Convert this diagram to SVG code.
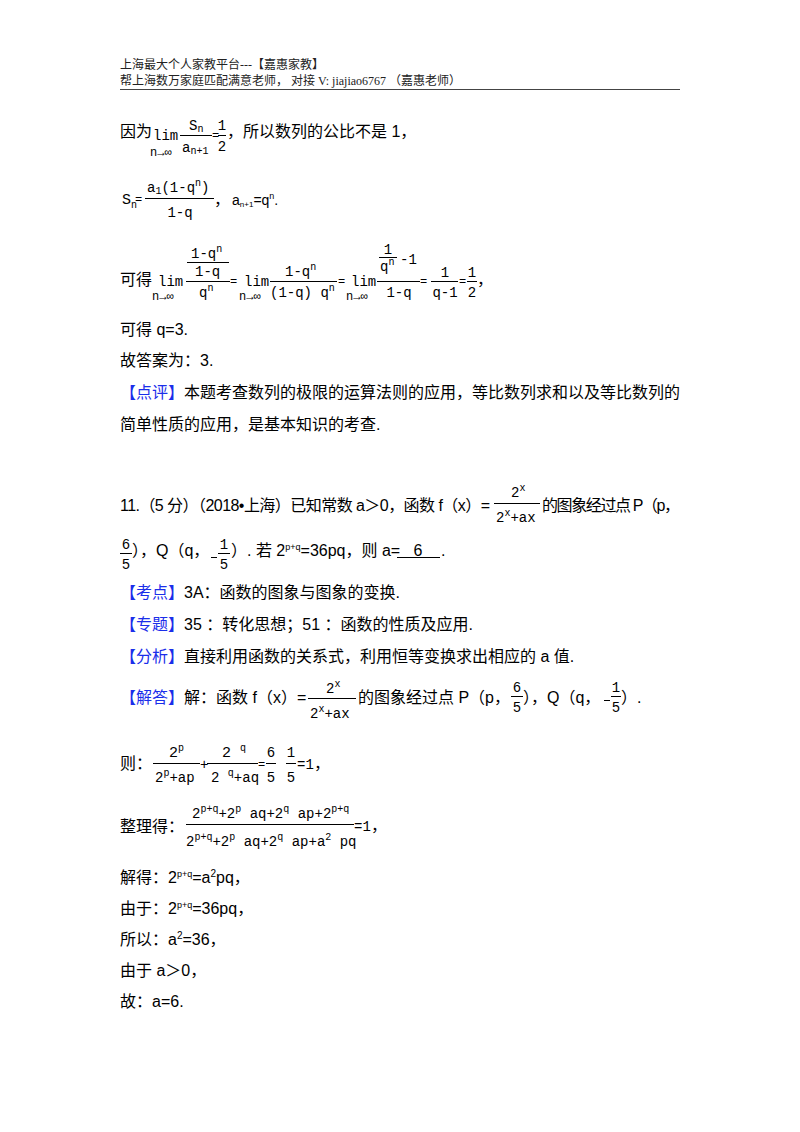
<svg xmlns="http://www.w3.org/2000/svg" width="800" height="1132" viewBox="0 0 800 1132">
<style>
.t{font-family:"Liberation Sans","Noto Sans CJK SC",sans-serif;font-size:16px;fill:#000}
.b{fill:#1a2eea}
.h{font-family:"Liberation Serif","Noto Sans CJK SC",serif;font-size:12px;fill:#222}
.m{font-family:"Liberation Mono","DejaVu Sans Mono",monospace;font-size:14px;fill:#000}
.s{font-size:10px}
.r{font-size:12px}
.l{font-size:14px}
.a{font-size:12px}
.fb{stroke:#000;stroke-width:1;fill:none}
</style>
<rect width="800" height="1132" fill="#fff"/>
<g id="header">
<text class="h" x="120" y="69">上海最大个人家教平台---【嘉惠家教】</text>
<text class="h" x="120" y="85">帮上海数万家庭匹配满意老师， 对接 V: jiajiao6767 （嘉惠老师）</text>
<line x1="120" y1="89.5" x2="680" y2="89.5" stroke="#444" stroke-width="1.2"/>
</g>
<g id="line-limit">
<text class="t" x="120" y="137">因为</text>
<text class="m l" x="153" y="140">lim</text>
<text class="m a" x="150" y="156">n→∞</text>
<text class="m" x="189" y="130">S<tspan class="s" dy="2">n</tspan></text>
<line class="fb" x1="180" y1="135.5" x2="212" y2="135.5"/>
<text class="m" x="182" y="152">a<tspan class="s" dy="2">n+1</tspan></text>
<text class="m r" x="212" y="139">=</text>
<text class="m" x="222" y="130" text-anchor="middle">1</text>
<line class="fb" x1="218" y1="135.5" x2="226" y2="135.5"/>
<text class="m" x="222" y="151" text-anchor="middle">2</text>
<text class="t" x="227" y="137">，所以数列的公比不是 1，</text>
</g>
<g id="line-sn">
<text class="m" x="122" y="204" style="font-size:15px">S<tspan class="s" dy="4">n</tspan></text>
<text class="m r" x="135" y="203">=</text>
<text class="m" x="147" y="192">a<tspan class="s" dy="2">1</tspan><tspan dy="-2">(1-q</tspan><tspan class="s" dy="-6">n</tspan><tspan dy="6">)</tspan></text>
<line class="fb" x1="145" y1="198.5" x2="214" y2="198.5"/>
<text class="m" x="180" y="217" text-anchor="middle">1-q</text>
<text class="t" x="214" y="205">，</text>
<text class="t" x="232" y="205" style="font-size:14px">a<tspan style="font-size:8px" dy="2">n+1</tspan><tspan dy="-2">=q</tspan><tspan style="font-size:9px" dy="-6">n</tspan><tspan dy="6">.</tspan></text>
</g>
<g id="line-ratio">
<text class="t" x="120" y="285">可得</text>
<text class="m l" x="158" y="286">lim</text>
<text class="m a" x="152" y="300">n→∞</text>
<text class="m" x="191" y="258">1-q<tspan class="s" dy="-6">n</tspan></text>
<line class="fb" x1="187" y1="262.5" x2="229" y2="262.5"/>
<text class="m" x="195" y="276">1-q</text>
<line class="fb" x1="186" y1="281.5" x2="230" y2="281.5"/>
<text class="m" x="199" y="297">q<tspan class="s" dy="-6">n</tspan></text>
<text class="m r" x="230" y="285">=</text>
<text class="m l" x="244" y="286">lim</text>
<text class="m a" x="239" y="300">n→∞</text>
<text class="m" x="285" y="276">1-q<tspan class="s" dy="-6">n</tspan></text>
<line class="fb" x1="270" y1="281.5" x2="337" y2="281.5"/>
<text class="m" x="270" y="297">(1-q) q<tspan class="s" dy="-6">n</tspan></text>
<text class="m r" x="338" y="285">=</text>
<text class="m l" x="351" y="286">lim</text>
<text class="m a" x="346" y="300">n→∞</text>
<text class="m" x="388" y="254" text-anchor="middle">1</text>
<line class="fb" x1="379" y1="257.5" x2="397" y2="257.5"/>
<text class="m" x="380" y="271">q<tspan class="s" dy="-6">n</tspan></text>
<text class="m" x="400" y="264">-1</text>
<line class="fb" x1="377" y1="281.5" x2="420" y2="281.5"/>
<text class="m" x="399" y="297" text-anchor="middle">1-q</text>
<text class="m r" x="420" y="285">=</text>
<text class="m" x="445" y="277" text-anchor="middle">1</text>
<line class="fb" x1="431" y1="281.5" x2="458" y2="281.5"/>
<text class="m" x="445" y="297" text-anchor="middle">q-1</text>
<text class="m r" x="459" y="285">=</text>
<text class="m" x="472" y="277" text-anchor="middle">1</text>
<line class="fb" x1="467" y1="281.5" x2="477" y2="281.5"/>
<text class="m" x="472" y="297" text-anchor="middle">2</text>
<text class="t" x="477" y="285">，</text>
</g>
<g id="line-q">
<text class="t" x="120" y="335">可得 q=3.</text>
<text class="t" x="120" y="366">故答案为：3.</text>
</g>
<g id="comment">
<text class="t" x="120" y="398"><tspan class="b">【点评】</tspan>本题考查数列的极限的运算法则的应用，等比数列求和以及等比数列的</text>
<text class="t" x="120" y="430">简单性质的应用，是基本知识的考查.</text>
</g>
<g id="problem11">
<text class="t" x="120" y="511" textLength="370" lengthAdjust="spacing">11.（5 分）（2018•上海）已知常数 a＞0，函数 f（x）=</text>
<text class="m" x="511" y="497">2<tspan class="s" dy="-6">x</tspan></text>
<line class="fb" x1="494" y1="503.5" x2="540" y2="503.5"/>
<text class="m" x="496" y="522">2<tspan class="s" dy="-6">x</tspan><tspan dy="6">+ax</tspan></text>
<text class="t" x="542" y="511" textLength="138" lengthAdjust="spacing">的图象经过点 P（p，</text>
<text class="m" x="126" y="549" text-anchor="middle">6</text>
<line class="fb" x1="120" y1="553.5" x2="132" y2="553.5"/>
<text class="m" x="126" y="569" text-anchor="middle">5</text>
<text class="t" x="132" y="556">），Q（q，</text>
<line class="fb" x1="211" y1="557.5" x2="217" y2="557.5"/>
<text class="m" x="224" y="549" text-anchor="middle">1</text>
<line class="fb" x1="218" y1="553.5" x2="230" y2="553.5"/>
<text class="m" x="224" y="569" text-anchor="middle">5</text>
<text class="t" x="231" y="556">）. 若 2<tspan style="font-size:9px" dy="-6">p+q</tspan><tspan dy="6">=36pq，则 a=</tspan></text>
<line class="fb" x1="397" y1="557.5" x2="440" y2="557.5"/>
<text class="t" x="418" y="556" text-anchor="middle">6</text>
<text class="t" x="441" y="556">.</text>
</g>
<g id="kaodian">
<text class="t" x="120" y="598"><tspan class="b">【考点】</tspan>3A：函数的图象与图象的变换.</text>
</g>
<g id="zhuanti">
<text class="t" x="120" y="630"><tspan class="b">【专题】</tspan>35 ：转化思想；51 ：函数的性质及应用.</text>
</g>
<g id="fenxi">
<text class="t" x="120" y="662"><tspan class="b">【分析】</tspan>直接利用函数的关系式，利用恒等变换求出相应的 a 值.</text>
</g>
<g id="jieda">
<text class="t" x="120" y="703"><tspan class="b">【解答】</tspan>解：函数 f（x）=</text>
<text class="m" x="326" y="693">2<tspan class="s" dy="-6">x</tspan></text>
<line class="fb" x1="308" y1="698.5" x2="356" y2="698.5"/>
<text class="m" x="310" y="718">2<tspan class="s" dy="-6">x</tspan><tspan dy="6">+ax</tspan></text>
<text class="t" x="358" y="703">的图象经过点 P（p，</text>
<text class="m" x="517" y="692" text-anchor="middle">6</text>
<line class="fb" x1="511" y1="696.5" x2="523" y2="696.5"/>
<text class="m" x="517" y="712" text-anchor="middle">5</text>
<text class="t" x="523" y="703">），Q（q，</text>
<line class="fb" x1="604" y1="700.5" x2="610" y2="700.5"/>
<text class="m" x="616" y="692" text-anchor="middle">1</text>
<line class="fb" x1="611" y1="696.5" x2="621" y2="696.5"/>
<text class="m" x="616" y="712" text-anchor="middle">5</text>
<text class="t" x="621" y="703">）.</text>
</g>
<g id="ze">
<text class="t" x="120" y="769">则：</text>
<text class="m" x="169" y="757" style="font-size:15px">2<tspan class="s" dy="-6">p</tspan></text>
<line class="fb" x1="153" y1="763.5" x2="200" y2="763.5"/>
<text class="m" x="155" y="782">2<tspan class="s" dy="-6">p</tspan><tspan dy="6">+ap</tspan></text>
<text class="m" x="200" y="769">+</text>
<text class="m" x="222" y="757" style="font-size:15px">2 <tspan class="s" dy="-6">q</tspan></text>
<line class="fb" x1="207" y1="763.5" x2="258" y2="763.5"/>
<text class="m" x="211" y="782">2 <tspan class="s" dy="-6">q</tspan><tspan dy="6">+aq</tspan></text>
<text class="m r" x="258" y="768">=</text>
<text class="m" x="271" y="757" text-anchor="middle">6</text>
<line class="fb" x1="266" y1="763.5" x2="276" y2="763.5"/>
<text class="m" x="271" y="782" text-anchor="middle">5</text>
<text class="m" x="291" y="757" text-anchor="middle">1</text>
<line class="fb" x1="286" y1="763.5" x2="296" y2="763.5"/>
<text class="m" x="291" y="782" text-anchor="middle">5</text>
<text class="m" x="297" y="769">=1</text>
<text class="t" x="314" y="769">，</text>
</g>
<g id="zhengli">
<text class="t" x="120" y="832">整理得：</text>
<text class="m" x="192" y="818">2<tspan class="s" dy="-6">p+q</tspan><tspan dy="6">+2</tspan><tspan class="s" dy="-6">p</tspan><tspan dy="6"> aq+2</tspan><tspan class="s" dy="-6">q</tspan><tspan dy="6"> ap+2</tspan><tspan class="s" dy="-6">p+q</tspan></text>
<line class="fb" x1="186" y1="824.5" x2="354" y2="824.5"/>
<text class="m" x="186" y="846">2<tspan class="s" dy="-6">p+q</tspan><tspan dy="6">+2</tspan><tspan class="s" dy="-6">p</tspan><tspan dy="6"> aq+2</tspan><tspan class="s" dy="-6">q</tspan><tspan dy="6"> ap+a</tspan><tspan class="s" dy="-6">2</tspan><tspan dy="6"> pq</tspan></text>
<text class="m" x="354" y="831">=1</text>
<text class="t" x="371" y="831">，</text>
</g>
<g id="final">
<text class="t" x="120" y="883">解得：2<tspan style="font-size:9px" dy="-6">p+q</tspan><tspan dy="6">=a</tspan><tspan style="font-size:10px" dy="-6">2</tspan><tspan dy="6">pq，</tspan></text>
<text class="t" x="120" y="914">由于：2<tspan style="font-size:9px" dy="-6">p+q</tspan><tspan dy="6">=36pq，</tspan></text>
<text class="t" x="120" y="945">所以：a<tspan style="font-size:10px" dy="-6">2</tspan><tspan dy="6">=36，</tspan></text>
<text class="t" x="120" y="976">由于 a＞0，</text>
<text class="t" x="120" y="1007">故：a=6.</text>
</g>
</svg>
